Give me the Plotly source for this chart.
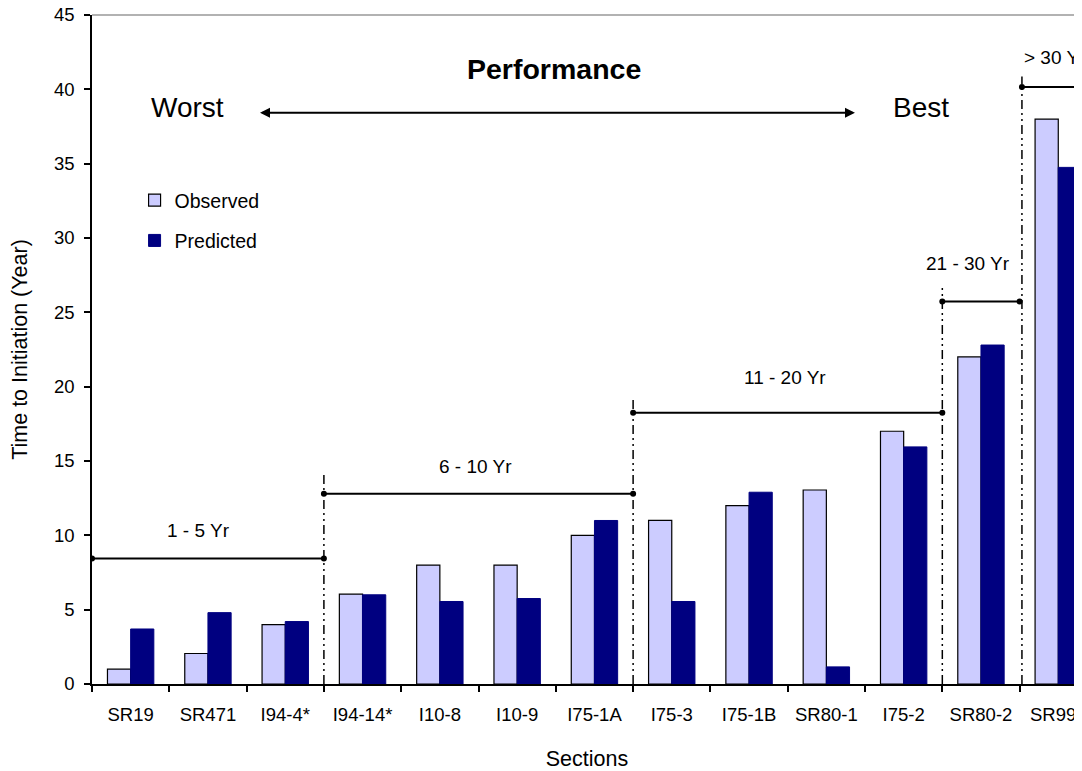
import plotly.graph_objects as go

sections = ["SR19", "SR471", "I94-4*", "I94-14*", "I10-8", "I10-9", "I75-1A",
            "I75-3", "I75-1B", "SR80-1", "I75-2", "SR80-2", "SR997"]
observed = [1.0, 2.05, 4.0, 6.05, 8.0, 8.0, 10.0, 11.0, 12.0, 13.05, 17.0, 22.0, 38.0]
predicted = [3.7, 4.8, 4.2, 6.0, 5.55, 5.75, 11.0, 5.55, 12.9, 1.15, 15.95, 22.8, 34.75]

XMAX = 12.307

# range groups: label, start boundary, end boundary, line level, label x, label y
groups = [
    ("1 - 5 Yr", -0.5, 2.5, 8.45, 0.875, 10.3),
    ("6 - 10 Yr", 2.5, 6.5, 12.8, 4.46, 14.66),
    ("11 - 20 Yr", 6.5, 10.5, 18.24, 8.47, 20.62),
    ("21 - 30 Yr", 10.5, 11.5, 25.73, 10.83, 28.3),
    ("> 30 Yr", 11.53, XMAX, 40.15, 11.53, 42.17),
]
dividers = [(2.5, 14.17), (6.5, 19.34), (10.5, 26.88), (11.53, 40.86)]

FONT = "Liberation Sans, Arial, sans-serif"

fig = go.Figure()
fig.add_trace(go.Bar(x=sections, y=observed, name="Observed", legendgroup="o",
                     marker=dict(color="#CCCCFF", line=dict(color="black", width=1.2))))
fig.add_trace(go.Bar(x=sections, y=predicted, name="Predicted", legendgroup="p",
                     marker=dict(color="#000080", line=dict(color="#000080", width=1))))

shapes = []
shapes.append(dict(type="line", xref="paper", yref="paper", x0=0, x1=1, y0=1, y1=1,
                   line=dict(color="#999999", width=1.5)))
dash = "9px,4px,2px,4px,2px,4px"
for xv, top in dividers:
    shapes.append(dict(type="line", xref="x", yref="y", x0=xv, x1=xv, y0=0, y1=top,
                       line=dict(color="black", width=1.5, dash=dash)))
annotations = []
for label, x0, x1, lvl, lx, ly in groups:
    shapes.append(dict(type="line", xref="x", yref="y", x0=x0, x1=x1, y0=lvl, y1=lvl,
                       line=dict(color="black", width=2)))
    for xe in (x0, x1):
        if xe < XMAX:
            shapes.append(dict(type="circle", xref="x", yref="y", xsizemode="pixel",
                               ysizemode="pixel", xanchor=xe, yanchor=lvl,
                               x0=-3, x1=3, y0=-3, y1=3,
                               fillcolor="black", line=dict(color="black", width=0)))
    annotations.append(dict(x=lx, y=ly, xref="x", yref="y", text=label, showarrow=False,
                            xanchor="left" if label.startswith(">") else "center",
                            font=dict(size=19, color="black", family=FONT)))

annotations.append(dict(x=9.37, y=38.42, ax=1.654, ay=38.42, xref="x", yref="y",
                        axref="x", ayref="y", text="", showarrow=True, arrowhead=2,
                        arrowside="end+start", arrowsize=1, arrowwidth=2,
                        arrowcolor="black"))
annotations.append(dict(x=0.73, y=38.75, xref="x", yref="y", text="Worst", showarrow=False,
                        font=dict(size=28, color="black", family=FONT)))
annotations.append(dict(x=10.22, y=38.75, xref="x", yref="y", text="Best", showarrow=False,
                        font=dict(size=28, color="black", family=FONT)))
annotations.append(dict(x=5.48, y=41.4, xref="x", yref="y", text="<b>Performance</b>",
                        showarrow=False, font=dict(size=28.5, color="black", family=FONT)))

fig.update_layout(
    width=1074, height=763,
    margin=dict(l=84, r=0, t=7, b=87, autoexpand=False),
    paper_bgcolor="white", plot_bgcolor="white",
    barmode="group", bargap=0.4, bargroupgap=0,
    font=dict(family=FONT, color="black", size=18),
    shapes=shapes, annotations=annotations,
    legend=dict(x=0.043, xanchor="left", y=0.752, yanchor="top",
                font=dict(size=19.5, family=FONT), tracegroupgap=12,
                traceorder="grouped", bgcolor="rgba(0,0,0,0)"),
    xaxis=dict(range=[-0.5, XMAX], showline=True, linecolor="black", linewidth=1.5,
               ticks="outside", tickson="boundaries", ticklen=6, tickcolor="black",
               tickwidth=1.5, ticklabelstandoff=13, showgrid=False,
               ticklabeloverflow="allow", automargin=False,
               tickfont=dict(size=18.5, family=FONT),
               title=dict(text="Sections", font=dict(size=21.5, family=FONT), standoff=36)),
    yaxis=dict(range=[0, 45], dtick=5, showline=True, linecolor="black", linewidth=1.5,
               ticks="outside", ticklen=6, tickcolor="black", tickwidth=1.5,
               ticklabelstandoff=6, showgrid=False, zeroline=False,
               ticklabeloverflow="allow", automargin=False,
               tickfont=dict(size=18.5, family=FONT),
               title=dict(text="Time to Initiation (Year)", font=dict(size=21.5, family=FONT),
                          standoff=20)),
)

fig.write_html("out.html", config={"displayModeBar": False})
